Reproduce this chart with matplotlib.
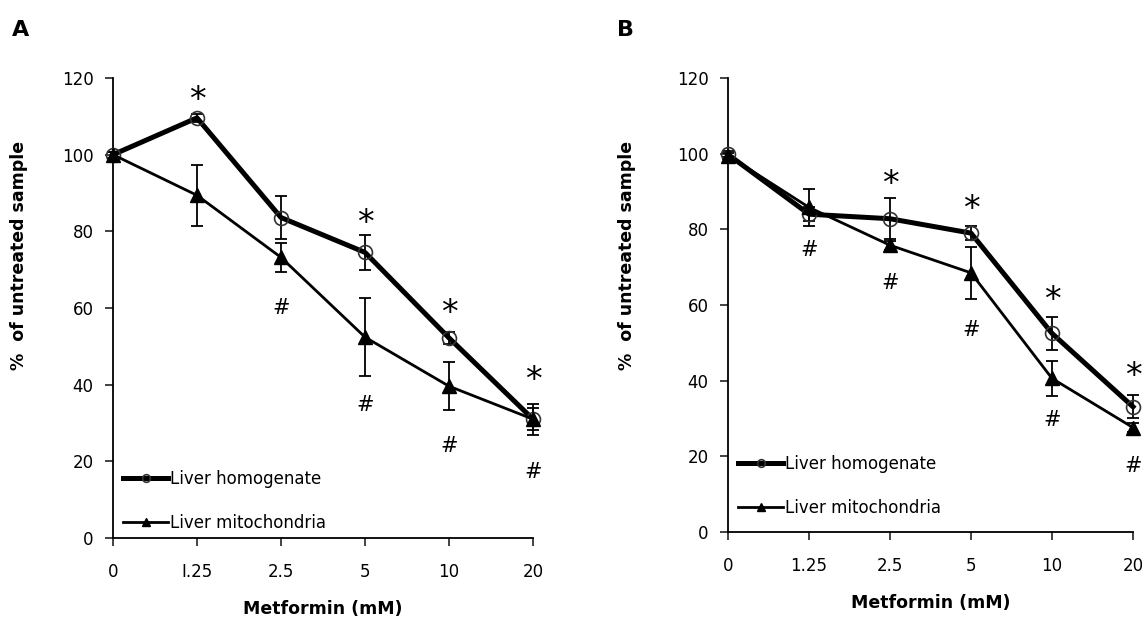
import matplotlib
matplotlib.use('Agg')
import matplotlib.pyplot as plt
import numpy as np

plt.rcParams['font.family'] = 'DejaVu Sans'

doses = ['0', '1.25', '2.5', '5', '10', '20']
doses_a = ['0', 'I.25', '2.5', '5', '10', '20']

# panel A
homog_a = [100, 109.6, 83.6, 74.5, 52.2, 31.0]
homog_a_err = [0.8, 1.0, 5.7, 4.6, 1.5, 4.0]
mito_a = [100, 89.4, 73.2, 52.4, 39.6, 31.0]
mito_a_err = [0.8, 8.0, 3.8, 10.2, 6.3, 2.8]
star_a = [(1, 115.5), (3, 83.5), (4, 60.0), (5, 42.5)]
hash_a = [(2, 60.0), (3, 34.8), (4, 23.9), (5, 17.1)]

# panel B
homog_b = [99.8, 84.0, 82.8, 79.0, 52.5, 33.1]
homog_b_err = [0.8, 1.8, 5.4, 1.8, 4.4, 3.0]
mito_b = [99.5, 85.8, 75.8, 68.5, 40.6, 27.6]
mito_b_err = [0.8, 4.8, 1.2, 6.8, 4.6, 1.2]
star_b = [(2, 93.2), (3, 86.8), (4, 62.7), (5, 42.7)]
hash_b = [(1, 74.6), (2, 65.8), (3, 53.4), (4, 29.5), (5, 17.5)]

fig = plt.figure(figsize=(11.42, 6.17), dpi=100)
W, H = 1142, 617


def panel(rect, ticklabels, homog, homog_err, mito, mito_err, stars, hashes,
          ylab_x, leg_y):
    l, r, b, t = rect
    ax = fig.add_axes([l / W, 1 - b / H, (r - l) / W, (b - t) / H])
    x = np.arange(len(ticklabels))
    ax.errorbar(x, homog, yerr=homog_err, fmt='none', ecolor='black',
                elinewidth=1.3, capsize=4.5, capthick=1.3, zorder=2, clip_on=False)
    ax.errorbar(x, mito, yerr=mito_err, fmt='none', ecolor='black',
                elinewidth=1.3, capsize=4.5, capthick=1.3, zorder=2, clip_on=False)
    ax.plot(x, homog, color='black', lw=3.6, marker='o', ms=10,
            mfc='none', mec='#333333', mew=1.2, label='Liver homogenate',
            zorder=3, clip_on=False)
    ax.plot(x, mito, color='black', lw=2.0, marker='^', ms=10,
            mfc='black', mec='black', label='Liver mitochondria',
            zorder=3, clip_on=False)
    for px, py in stars:
        ax.annotate('*', (px, py), xytext=(0, -4), textcoords='offset points',
                    ha='center', va='center', fontsize=24, annotation_clip=False)
    for px, py in hashes:
        ax.text(px, py, '#', ha='center', va='center', fontsize=15, clip_on=False)
    ax.set_xlim(0, len(ticklabels) - 1)
    ax.set_ylim(0, 120)
    ax.set_xticks(x)
    ax.set_xticklabels(ticklabels)
    ax.set_yticks(np.arange(0, 121, 20))
    ax.spines['top'].set_visible(False)
    ax.spines['right'].set_visible(False)
    for s in ('left', 'bottom'):
        ax.spines[s].set_linewidth(1.3)
    ax.tick_params(axis='both', direction='out', length=6, width=1.2,
                   labelsize=12, colors='#222222', labelcolor='black')
    ax.tick_params(axis='x', pad=12)
    ax.tick_params(axis='y', pad=8)
    ax.set_xlabel('Metformin (mM)', fontsize=12.5, fontweight='bold', labelpad=14)
    ax.set_ylabel('%  of untreated sample', fontsize=12.5, fontweight='bold')
    ax.yaxis.set_label_coords(ylab_x / W, 1 - 255 / H, transform=fig.transFigure)
    ax.legend(loc='lower left', frameon=False, fontsize=12, handlelength=2.7,
              handletextpad=0.1, labelspacing=1.55, borderaxespad=0.2,
              markerscale=0.55, bbox_to_anchor=(0, leg_y))
    return ax


ax_a = panel((113, 533, 538, 78), doses_a, homog_a, homog_a_err, mito_a,
             mito_a_err, star_a, hash_a, 28, -0.009)
ax_b = panel((728, 1133, 532, 78), doses, homog_b, homog_b_err, mito_b,
             mito_b_err, star_b, hash_b, 636, 0.011)

fig.text(12 / W, 1 - 30 / H, 'A', fontsize=16, fontweight='bold', va='center')
fig.text(617 / W, 1 - 30 / H, 'B', fontsize=16, fontweight='bold', va='center')

fig.savefig('out.png', dpi=100)
